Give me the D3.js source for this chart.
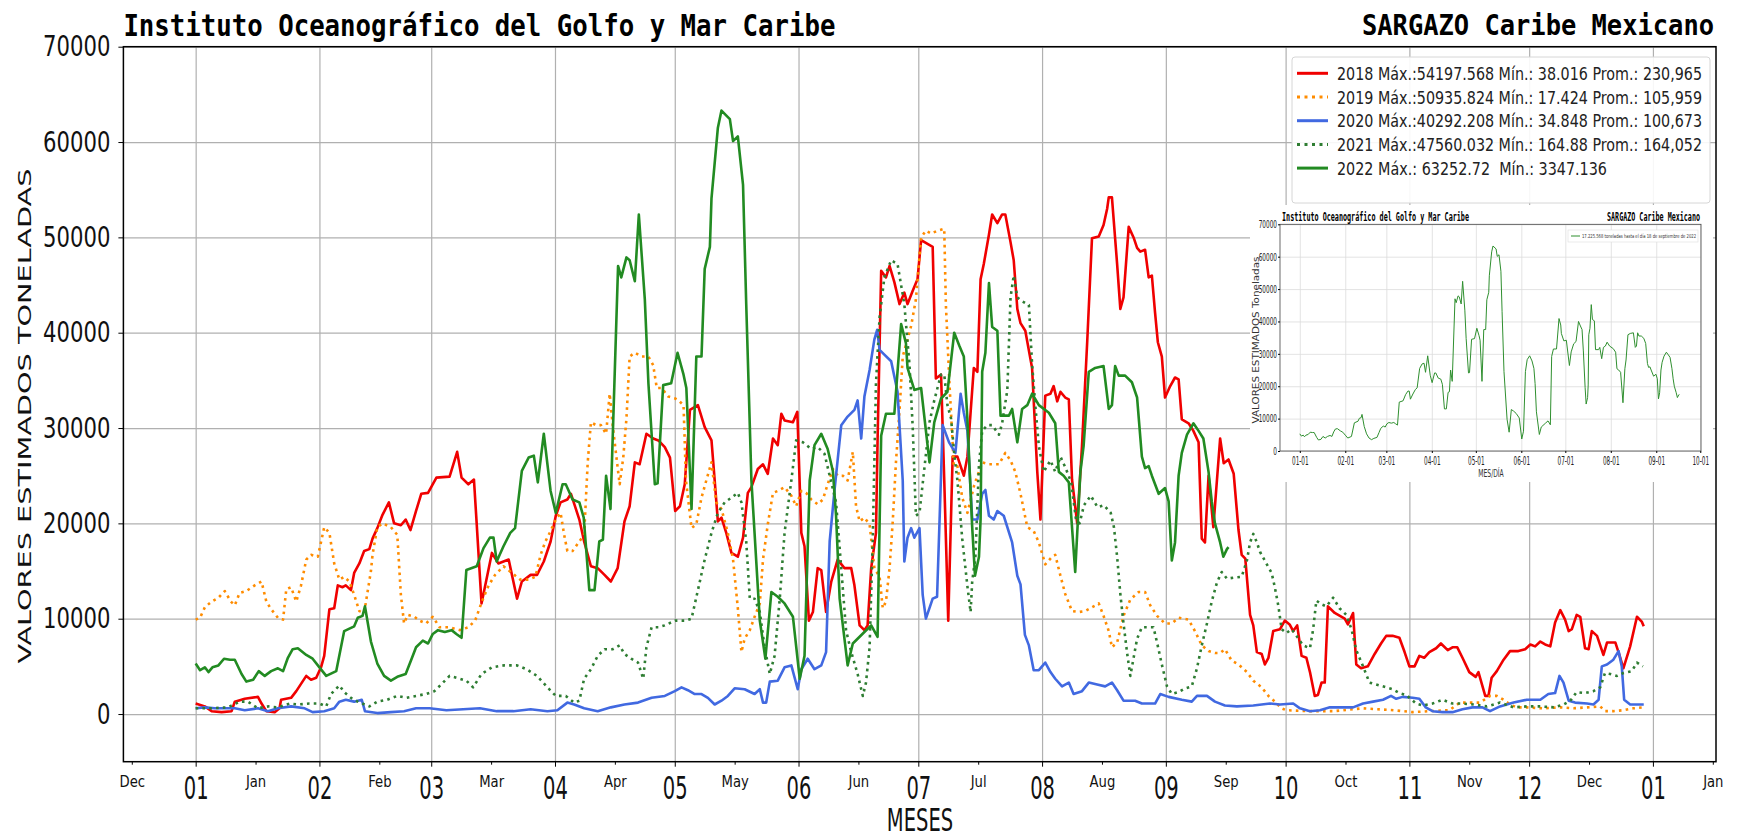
<!DOCTYPE html>
<html lang="es">
<head>
<meta charset="utf-8" />
<title>SARGAZO Caribe Mexicano</title>
<style>
  body { margin:0; background:#fff; }
  svg  { display:block; font-family:"DejaVu Sans",sans-serif; }
  .grid line  { stroke:#b0b0b0; stroke-width:1.2px; }
  .igrid line { stroke:#dcdcdc; stroke-width:0.8px; }
  .grid path, .igrid path { display:none; }
  .mono { font-family:"DejaVu Sans Mono",monospace; font-weight:bold; }
</style>
</head>
<body>
<svg id="chart" width="1737" height="837"></svg>

<script src="https://cdn.jsdelivr.net/npm/d3@7"></script>
<script>
/* ---------- DATA : [day of year (0 = 1 Jan), toneladas] ---------- */
const s2018 = [[0,1100],[2.3,800],[4,300],[6.5,200],[9,300],[9.8,1300],[12.3,1600],[15.6,1800],[16.5,1100],[17.7,300],[19.8,200],[21,600],[21.4,1500],[23.9,1700],[25.2,2400],[27.7,4000],[28.9,3600],[30.2,3800],[31.4,4900],[32.2,6100],[33.5,11000],[34.7,11100],[35.6,13500],[36.8,13300],[37.6,13500],[38.9,13000],[39.7,14800],[41,15800],[42.2,17100],[43.5,17300],[44.3,18400],[45.5,19500],[46.8,20900],[48.4,22200],[49.7,20000],[51.4,19800],[52.6,20400],[53.8,19300],[55.2,21300],[56.5,23100],[58.2,23200],[60.3,24800],[63.6,24900],[65.5,27500],[66.6,24800],[68.3,24100],[69.7,24600],[70.4,19900],[71.6,11600],[74.2,16900],[75.8,15800],[78.4,16200],[80.5,12100],[81.7,13900],[83.9,14600],[85.5,14600],[87.2,16000],[88.9,18100],[90.2,20800],[91.4,22200],[93.1,22500],[94,23100],[96.1,20400],[97.3,18100],[99,15500],[100.7,15300],[102.4,14600],[104,13900],[105.7,15300],[107.4,20200],[108.7,21800],[110,26400],[111.2,26200],[112.9,29400],[114.6,28900],[115.9,28700],[117.5,28000],[118.8,26900],[120.1,21300],[121.3,21800],[122.5,24100],[123.8,31900],[125.8,32400],[127.5,30100],[129.2,28700],[130,24500],[130.8,20200],[131.7,20600],[132.9,19000],[134.2,16900],[135.8,16500],[137.1,18500],[138.3,23200],[139.2,23800],[140.8,25700],[142.1,26200],[143.3,25200],[144.6,28900],[145.8,28200],[146.7,31500],[147.5,30800],[149.6,30600],[150.7,31700],[151.7,19000],[152.5,17600],[153.6,9800],[154.6,10700],[155.8,15300],[156.7,15100],[157.9,10700],[159.2,13900],[160.8,16200],[162.5,15300],[164.2,15300],[165,13500],[166.3,9300],[167.5,8800],[168.3,9300],[169.2,15300],[170.4,19000],[170.8,28700],[171.7,46500],[172.9,45800],[173.8,47000],[175,45300],[176.3,43000],[177.5,44200],[178.3,43000],[179.6,44400],[180.8,45600],[181.7,49700],[184.6,49000],[185.4,35200],[186.7,35600],[187.5,24500],[188.5,9800],[189.6,27000],[190.8,27000],[192.4,25000],[193.3,27000],[194.9,36300],[195.8,35900],[196.6,45600],[197.4,47200],[198.7,50300],[199.5,52400],[200.8,51500],[202,52400],[202.8,52400],[204.1,49500],[204.9,47600],[205.8,42500],[206.6,41000],[207.8,40200],[209.5,36300],[210.8,25400],[211.6,20400],[212.8,33400],[214.1,33600],[214.9,34400],[215.8,32800],[216.6,33800],[217.8,33200],[218.7,33000],[219.5,24600],[220.8,20000],[222,28100],[223.3,39000],[224.5,49900],[226.2,50100],[227.4,51300],[228.3,53000],[228.7,54200],[229.5,54200],[230.8,47200],[231.6,42500],[232.4,43700],[233.7,51100],[235,49900],[235.8,48900],[236.6,48500],[237.8,48700],[238.7,45800],[239.5,46000],[240.3,42100],[241,39000],[242,37500],[242.8,33200],[244.1,34400],[245.3,35300],[246.2,35100],[247,30900],[248.7,30500],[249.9,29700],[251.2,28500],[252,18400],[252.8,18000],[253.7,25000],[254.9,19600],[256.6,28900],[257.5,26300],[258.7,26700],[260,25200],[261.2,19300],[262,16700],[262.9,16300],[264.1,10400],[264.9,9300],[265.8,6500],[267,6300],[267.8,5200],[268.7,5900],[269.9,8700],[271.6,8900],[272.8,9800],[274,9400],[274.9,8700],[275.9,9300],[277,6100],[278.2,5900],[279.1,4400],[280.3,1900],[281.1,2000],[282,3300],[282.8,3300],[283.6,11300],[285.3,10600],[287.8,10000],[288.6,9400],[289.9,10600],[290.7,5200],[291.9,4800],[293.6,5000],[295.3,6300],[296.9,7400],[298.2,8200],[299.8,8200],[301.5,8000],[302.8,6500],[304,5000],[305.3,5000],[306.5,6100],[307.7,5900],[309,6500],[310.7,6900],[311.9,7400],[313.6,6700],[314.8,7000],[316,7000],[317.3,5900],[319,4400],[320.6,3900],[321.3,4400],[323,1900],[323.8,1900],[324.6,3800],[325.9,4500],[327.6,5700],[329.2,6600],[331.3,6600],[333,6800],[334.3,7300],[335.5,7100],[336.8,7600],[338,7300],[339.3,7100],[340.5,9600],[341.8,10900],[343,9900],[343.9,8700],[344.7,8900],[345.9,10400],[346.8,10200],[348,6900],[348.9,6800],[349.7,8700],[351,8200],[352.6,6200],[353.5,7500],[355.6,7500],[356.6,6200],[357.6,4800],[359.3,7100],[361,10200],[362.2,9700],[362.7,9200]];

const s2019 = [[0,9900],[1.1,10100],[2.3,11200],[4,11800],[5.7,12200],[7.3,12900],[8.8,11800],[9.8,11400],[11,12700],[12.7,12900],[14.8,13500],[16.5,13900],[17.7,11800],[18.9,11000],[20.6,10100],[21.9,9900],[22.7,13100],[23.9,13300],[25.2,11800],[26.4,13500],[27.7,16200],[28.9,16700],[30.6,16500],[32.2,19600],[33.5,19000],[34.7,15800],[36,14100],[37.2,14400],[38.5,13900],[39.7,12500],[41,10800],[42.2,10600],[43.9,15000],[44.3,16700],[45.5,19600],[46.8,20000],[48.9,19600],[50.5,18800],[51.4,12500],[52.2,9500],[53.1,10400],[54.8,10200],[56,9800],[57.7,9500],[59.4,10200],[61.1,9100],[63.6,9100],[66.2,8800],[68.3,9100],[70,9800],[71.7,11800],[73.4,13500],[75,14600],[77.1,15500],[79.2,14800],[81.3,14100],[83.4,14100],[85.1,14400],[86.4,16700],[87.6,18100],[88.9,19200],[90.2,20400],[91.4,21100],[92.3,18800],[93.1,17100],[94.4,17100],[96.1,18100],[97.3,18800],[98.2,26400],[99,30600],[100.3,30300],[101.5,30300],[102.8,29400],[103.7,33600],[104.5,30100],[105.4,26900],[106.2,24100],[107.1,26900],[107.9,31000],[108.7,37500],[110,37900],[111.7,37500],[113.4,37500],[114.6,36600],[115.5,34200],[116.7,34200],[118.4,33300],[120.1,33100],[120.9,32900],[122.2,32400],[122.8,24500],[124.2,19500],[125.4,19900],[126.7,22700],[127.9,24500],[129.2,26400],[130.4,22200],[131.7,21500],[133.3,19000],[134.6,16200],[135.8,11100],[136.7,6500],[137.5,7900],[138.8,8800],[140,10200],[141.3,11600],[142.1,16200],[143.3,19900],[144.6,23200],[145.8,23400],[147.5,23800],[149.2,22900],[150.4,21800],[151.7,23400],[152.9,23200],[154.2,22500],[155.8,22000],[157.1,22500],[158.3,24100],[159.6,25700],[160.8,25000],[162.1,25000],[163.3,24500],[164.6,27500],[165.4,21800],[166.3,20200],[167.5,20600],[168.8,19900],[170,15300],[171.3,14400],[172.1,11100],[172.9,11800],[173.8,15300],[174.6,20200],[175.4,26400],[176.3,31900],[177.1,37500],[178.3,39300],[179.2,40700],[180.4,43500],[181.7,50000],[182.9,50700],[184.2,50400],[185.8,50700],[187.5,50900],[187.9,43000],[188.8,34700],[189.9,26000],[190.8,26000],[192,22700],[193.3,21100],[195,24000],[197,26400],[198.7,26200],[201.2,26200],[202.8,27400],[204.1,26600],[205.3,25400],[206.6,23100],[208.3,19600],[209.9,19200],[211.2,18000],[212.8,15700],[214.5,16500],[215.3,16700],[216.6,14500],[217.8,12600],[219.5,10800],[221.2,10700],[222.8,10800],[224.5,11200],[226.2,11600],[227.4,10300],[228.7,8700],[229.5,7000],[230.8,7500],[232.4,10300],[234.1,12000],[236.2,12800],[237.8,12800],[239.1,11400],[240.8,10300],[242.8,9500],[244.5,9500],[246.2,10100],[248.7,9900],[250.3,8700],[252,7200],[253.7,6600],[255.3,6400],[256.6,6400],[257.8,6800],[259.5,5600],[261.2,5200],[263.3,4400],[264.9,3500],[267,2800],[268.7,1900],[270.3,1300],[272,600],[273.2,400],[279.1,300],[285,300],[292.4,600],[296,500],[300,400],[304.8,200],[309,300],[314,400],[316.7,1200],[319.2,1200],[321.7,1200],[324.2,1900],[325.9,1900],[327.6,1500],[329.2,1000],[330.9,700],[333.4,700],[337.6,600],[341.8,700],[345.1,600],[348.5,700],[351.8,800],[353,300],[355.1,300],[357.6,400],[360.1,600],[362.7,700]];

const s2020 = [[0,600],[2.3,700],[4.8,600],[7.3,600],[9.8,600],[12.3,400],[15.6,600],[18.1,300],[20.6,600],[23.9,800],[27.3,600],[29.3,200],[32.2,300],[34.7,600],[36,1300],[37.6,1500],[39.7,1300],[41.6,1500],[42.4,300],[45.5,100],[48.9,200],[52.2,300],[55.2,600],[58.6,600],[62.8,400],[67,500],[71.2,600],[75.4,300],[79.6,300],[83.9,500],[88.1,300],[90.6,400],[93.1,1200],[94.8,1000],[97.3,600],[100.7,300],[104,700],[107.4,1000],[110.8,1200],[114.2,1700],[117.5,1900],[120,2400],[121.7,2800],[123.3,2500],[125,2100],[126.7,2100],[128.3,1700],[130,1000],[131.7,1400],[133.3,1900],[135,2700],[137.5,2600],[140,2100],[141.3,2600],[142.1,1200],[142.9,1200],[143.8,3400],[145.8,3500],[147.5,4900],[149.2,5100],[150.8,2600],[151.7,4700],[153.3,5800],[155,4700],[156.7,5100],[157.9,6500],[158.8,18100],[160,23400],[161.7,30300],[163.3,31200],[165,31900],[165.8,32900],[166.7,28900],[167.5,33300],[168.8,36100],[170,39300],[170.7,40300],[171.3,38200],[172.5,37700],[174.2,37000],[175.8,33800],[177.1,24500],[177.5,16000],[178.3,18500],[179.2,19500],[180,18500],[181.3,19500],[182.1,12500],[182.9,10000],[184.6,12100],[185.7,12300],[187.1,30300],[188.7,28500],[190.3,27400],[191.6,33600],[192.4,31600],[193.3,29700],[194.5,20400],[195.8,20400],[197,23100],[197.8,23500],[198.7,20800],[199.9,20400],[200.8,21300],[202.4,20800],[204.5,18000],[205.8,14500],[206.6,13600],[207.7,8300],[208.7,7200],[209.9,4600],[211.2,4600],[212.8,5400],[214.1,4400],[215.3,3700],[217,2900],[218.7,3300],[219.9,2100],[222,2400],[223.7,3300],[225.8,3100],[227.8,2900],[229.5,3300],[230.8,2500],[232.4,1400],[235.3,1400],[237,1100],[240.3,1100],[241.6,2100],[243.7,1800],[247,1500],[249.5,1300],[250.8,1900],[253.3,1900],[255.3,1300],[257.8,900],[260.8,800],[264.9,900],[269.1,1100],[271.6,1000],[274.9,1100],[276.6,600],[279.1,300],[281.6,400],[284.1,700],[289.9,700],[292.4,1100],[294.9,1300],[297.4,1500],[299.4,1900],[300.7,1600],[302.3,1800],[304.8,1700],[306.5,1600],[308.1,700],[309.8,300],[312.3,200],[314.8,200],[317.3,500],[319.8,700],[322.3,700],[324.2,300],[326.7,800],[330.1,1200],[333.4,1500],[336.8,1500],[338.8,2100],[340.5,2200],[341.6,4000],[342.6,3300],[343.9,1400],[345.5,1200],[348.5,1100],[350.1,1000],[351.4,1500],[352.2,5000],[353.5,5200],[355.1,5700],[356.4,6600],[357.2,5000],[357.8,1500],[359.3,1000],[362.7,1000]];

const s2021 = [[0,600],[4,600],[8.1,700],[11,1300],[13.1,1300],[15.6,600],[18.1,800],[20.6,700],[23.5,1100],[25.6,1000],[28.5,1100],[31,1100],[32.7,800],[33.9,2100],[36,3000],[37.2,2300],[38.9,1700],[40.6,1300],[43.5,800],[45.5,1300],[48,1500],[50.5,1900],[52.7,1700],[55.2,1900],[57.7,2100],[59.8,2400],[61.5,3100],[63.6,4000],[66.2,3700],[67.8,3500],[69.5,2800],[71.6,4200],[74.2,4900],[77.1,5100],[80.5,5100],[82.9,4700],[85.5,4000],[88.1,2800],[90.2,1900],[92.7,1900],[94.8,1200],[96.1,1400],[97.3,3700],[99,4700],[100.7,6100],[102.4,6800],[104.5,6800],[106.2,7200],[107.4,6300],[109.1,5800],[110.8,5400],[112.1,3700],[112.9,7000],[114.2,9100],[115.9,9100],[117.5,9300],[120.1,9800],[122.6,9800],[124.2,10000],[125.8,13000],[127.5,16200],[129.2,19000],[130.8,21100],[132.5,22200],[134.2,22700],[135.8,23200],[136.7,22200],[137.9,18100],[138.8,12100],[140,12100],[141.3,10700],[142.5,7000],[143.8,4200],[145,6100],[146.3,12100],[147.5,19000],[149.2,24500],[150.4,28700],[152.1,28500],[154.2,27800],[155.8,28000],[157.5,27300],[159.2,24300],[160.4,22200],[161.7,15300],[162.9,8800],[164.2,6500],[165.8,4200],[167.1,1900],[167.9,3300],[168.8,7000],[169.6,18500],[170.4,34700],[171.3,41600],[172.5,45800],[174.2,47600],[175.8,47200],[177.5,43000],[178.8,36600],[179.6,30100],[180.4,20800],[181.3,21100],[182.5,25700],[183.8,30600],[185,32900],[185.8,34200],[186.7,35600],[187.5,35600],[188.3,32400],[189.2,31000],[190,27300],[190.8,24500],[192,18400],[193.3,13400],[194.1,10700],[194.5,13900],[195.3,16500],[196.2,26200],[197,29700],[198.3,30300],[199.5,30300],[201.2,29300],[202,30500],[203.3,34000],[204.1,43700],[204.9,46000],[205.8,43700],[207,43300],[208.7,42900],[209.5,36700],[210.3,32400],[211.2,28100],[212.4,25400],[214.1,26600],[215.3,25400],[216.6,27000],[217.9,25800],[219.3,24300],[220.5,20400],[221.4,20000],[222.5,21900],[224.2,22900],[225.9,21700],[227.5,21900],[229.2,21100],[230,19600],[230.8,16500],[231.6,12600],[232.4,9500],[233.3,6400],[234.1,4000],[234.8,5600],[235.8,7900],[237,9100],[238.3,9100],[239.9,9100],[240.8,7500],[242,5200],[243.3,2900],[244.5,2100],[246.2,2300],[247.9,2700],[249.5,2900],[250.8,4800],[252,7200],[253.3,9500],[254.5,11800],[255.8,13800],[257,14900],[258.3,14200],[259.9,14300],[262,14400],[263.3,16100],[264.1,18000],[264.9,18900],[265.8,18000],[266.6,17000],[268.3,15700],[269.5,14800],[270.3,13300],[271.2,11300],[272,8900],[273.2,8500],[274.5,8900],[275.7,8200],[277.4,7200],[279.1,6900],[279.9,8900],[280.7,11900],[282,11500],[283.2,11300],[284.9,12200],[286.5,11100],[288.2,10400],[289.5,8900],[290.7,6700],[292.4,5000],[294,3300],[296.5,3000],[298.2,2800],[299.8,2600],[301.5,2200],[303.2,2000],[305.7,1100],[307.3,900],[309.8,1100],[312.3,1500],[314.8,1100],[317.3,1100],[320,1000],[323.4,800],[326.7,1200],[330.1,700],[333.4,800],[336.8,800],[340.2,700],[342.6,1000],[344.3,1400],[345.9,2300],[348,2200],[350.1,2400],[351.8,2800],[353,4300],[354.3,4200],[356,4000],[357.6,4300],[359.7,4500],[361,5400],[362.5,5000]];

const s2022 = [[0,5300],[1.1,4600],[2.3,4900],[3.2,4400],[4.2,4900],[5.7,5100],[7.1,5800],[8.6,5700],[9.8,5700],[11.5,4200],[12.7,3400],[14.4,3600],[15.8,4500],[17.3,4000],[18.9,4500],[20.6,4800],[21.9,4500],[23.1,5900],[24.3,6800],[25.6,6900],[27.7,6200],[29.3,5800],[31,4900],[32.7,4000],[35.2,4500],[37.2,8700],[39.7,9200],[40.6,10100],[41.8,10300],[42.4,11300],[43.9,7600],[45.5,5300],[47.2,4000],[48.9,3500],[50.5,3900],[52.6,4200],[54,5700],[55.2,7000],[56.9,7700],[58.2,7400],[59.4,8400],[60.7,8800],[62.4,8600],[64.1,8800],[65.3,8400],[66.6,8000],[67.8,15100],[70.4,15500],[72.1,17400],[73.7,18500],[74.6,18500],[75.4,16000],[77.1,17600],[78.8,19000],[80,19500],[81.7,25500],[83.4,26900],[84.7,27100],[85.7,24300],[87.2,29400],[88.9,23400],[90.2,21100],[91.9,24100],[92.7,24100],[94.4,22500],[96.1,22200],[97.2,20600],[98.6,13000],[99.9,13000],[101.1,18100],[102,18300],[102.8,25000],[103.9,21500],[105.8,47000],[106.6,45800],[107.9,47900],[108.7,47600],[110,45400],[111,52400],[112.5,43500],[113.4,34700],[115,24100],[115.7,24200],[117.1,34500],[119.1,34700],[120.7,37900],[122.2,35600],[122.9,34200],[124.2,21500],[125.4,37500],[126.7,37500],[127.5,46700],[128.8,49000],[129.2,54100],[130.8,61500],[131.7,63300],[133.8,62400],[134.6,60100],[135.8,60600],[137.1,55500],[137.9,43000],[139.2,24500],[141.3,9800],[142.7,5800],[144.2,12800],[145.8,12300],[147.5,11600],[149.6,10200],[151.3,3700],[152.5,6100],[153.8,24500],[155,28200],[156.7,29400],[158.3,27800],[159.6,25500],[160.4,20800],[161.3,12100],[163.3,5100],[164.6,7400],[167.5,8600],[169.2,9300],[170.8,8100],[171.7,29200],[172.9,31500],[175,31500],[176.7,40900],[177.9,38900],[178.3,36300],[180,34000],[181.7,34200],[183.8,26400],[185,30600],[186.7,33100],[188.3,33800],[190,40000],[191.3,38600],[192.4,37500],[193.3,30900],[194.5,19600],[195.2,14500],[196.2,16500],[196.6,20400],[197,35900],[197.8,37900],[198.7,45200],[199.5,40600],[200.8,40200],[201.6,31300],[203.7,31300],[204.5,32000],[205.8,28500],[207,32000],[208.3,32400],[209.5,33600],[211.2,32400],[213.7,31600],[215.3,30500],[216.2,25400],[217.4,25000],[218.7,24300],[220.3,14900],[221.6,25400],[222.4,28100],[223.7,35900],[225.3,36300],[227.4,36500],[228.7,32000],[229.5,32400],[230.3,36500],[231.2,35500],[232.8,35500],[234.5,34800],[235.8,33200],[237,27000],[237.8,25800],[238.7,26000],[239.5,25000],[241.2,23100],[242.8,23700],[243.7,22300],[244.5,16100],[245.3,18000],[246.2,25000],[247,27400],[248.3,29300],[249.9,30500],[251.2,29700],[252.4,28900],[253.7,25400],[254.5,22300],[255.3,20000],[256.6,18000],[257.4,16500],[258.3,17300],[258.7,17500]];

const legendLabels = [
  "2018 Máx.:54197.568 Mín.: 38.016 Prom.: 230,965",
  "2019 Máx.:50935.824 Mín.: 17.424 Prom.: 105,959",
  "2020 Máx.:40292.208 Mín.: 34.848 Prom.: 100,673",
  "2021 Máx.:47560.032 Mín.: 164.88 Prom.: 164,052",
  "2022 Máx.: 63252.72  Mín.: 3347.136"
];
const insetLabel = "17.225.568 toneladas hasta el día 18 de septiembre de 2022";
const yTicks = d3.range(0, 70001, 10000);

/* ---------- SET-UP ---------- */
const svg  = d3.select("#chart");
const base = Date.UTC(2022, 0, 1);
const toDate = d => new Date(base + d * 864e5);
const M = {left:123.4, right:1716, top:46.7, bottom:761.7};
const plain = d3.format("d");

const series = [
  {data:s2018, color:"#f00000",  dotted:false},
  {data:s2019, color:"#ff8c00",  dotted:true},
  {data:s2020, color:"#4169e1",  dotted:false},
  {data:s2021, color:"#2e7d32",  dotted:true},
  {data:s2022, color:"#228b22",  dotted:false}
];

const x = d3.scaleUtc().domain([toDate(-18.1), toDate(380.8)]).range([M.left, M.right]);
const y = d3.scaleLinear().domain([-5000, 70000]).range([M.bottom, M.top]);

const majorTicks = d3.utcMonth.range(toDate(0), toDate(366));
const minorTicks = d3.utcMonth.range(toDate(-31), toDate(366)).map(d => d3.utcDay.offset(d, 15));

/* ---------- GRID ---------- */
svg.append("g").attr("class","grid").attr("transform",`translate(0,${M.bottom})`)
  .call(d3.axisBottom(x).tickValues(majorTicks).tickSize(-(M.bottom - M.top)).tickFormat(""));
svg.append("g").attr("class","grid").attr("transform",`translate(${M.left},0)`)
  .call(d3.axisLeft(y).tickValues(yTicks).tickSize(-(M.right - M.left)).tickFormat(""));

/* ---------- LINES ---------- */
const line = d3.line().x(d => x(toDate(d[0]))).y(d => y(d[1]));
series.forEach(s => {
  svg.append("path").datum(s.data)
    .attr("d", line)
    .attr("fill","none")
    .attr("stroke", s.color)
    .attr("stroke-width", 2.6)
    .attr("stroke-linejoin","round")
    .attr("stroke-dasharray", s.dotted ? "2.6,4.2" : null);
});

/* ---------- FRAME + AXES ---------- */
svg.append("rect")
  .attr("x",M.left).attr("y",M.top)
  .attr("width",M.right - M.left).attr("height",M.bottom - M.top)
  .attr("fill","none").attr("stroke","#000").attr("stroke-width",1.5);

const xMajor = svg.append("g").attr("transform",`translate(0,${M.bottom})`)
  .call(d3.axisBottom(x).tickValues(majorTicks).tickFormat(d3.utcFormat("%m")).tickSize(5));
xMajor.attr("font-family",null).attr("font-size",null).select(".domain").remove();
xMajor.selectAll("text").attr("y",37).attr("dy",null)
  .attr("font-size",32).attr("fill","#111").attr("transform","scale(0.61,1)");

const xMinor = svg.append("g").attr("transform",`translate(0,${M.bottom})`)
  .call(d3.axisBottom(x).tickValues(minorTicks).tickFormat(d3.utcFormat("%b")).tickSize(3));
xMinor.attr("font-family",null).attr("font-size",null).select(".domain").remove();
xMinor.selectAll("text").attr("y",25).attr("dy",null)
  .attr("font-size",16.5).attr("fill","#111").attr("transform","scale(0.8,1)");

const yAxis = svg.append("g").attr("transform",`translate(${M.left},0)`)
  .call(d3.axisLeft(y).tickValues(yTicks).tickFormat(plain).tickSize(5));
yAxis.attr("font-family",null).attr("font-size",null).select(".domain").remove();
yAxis.selectAll("text").attr("x",0)
  .attr("font-size",29).attr("fill","#111").attr("transform","translate(-13,0) scale(0.73,1)");

/* ---------- TITLES / LABELS ---------- */
svg.append("text").attr("class","mono")
  .attr("x",M.left).attr("y",36).attr("font-size",31)
  .attr("textLength",712).attr("lengthAdjust","spacingAndGlyphs")
  .text("Instituto Oceanográfico del Golfo y Mar Caribe");
svg.append("text").attr("class","mono")
  .attr("x",1714).attr("y",35).attr("font-size",28).attr("text-anchor","end")
  .attr("textLength",352).attr("lengthAdjust","spacingAndGlyphs")
  .text("SARGAZO Caribe Mexicano");

svg.append("text")
  .attr("transform","translate(920,831) scale(0.61,1)")
  .attr("text-anchor","middle").attr("font-size",32).attr("fill","#111")
  .text("MESES");

svg.append("text")
  .attr("transform","translate(25,416) rotate(-90) scale(1,0.62)")
  .attr("text-anchor","middle").attr("dy","0.36em").attr("font-size",28).attr("fill","#111")
  .attr("textLength",495).attr("lengthAdjust","spacingAndGlyphs")
  .text("VALORES ESTIMADOS TONELADAS");

/* ---------- LEGEND ---------- */
const leg = svg.append("g");
leg.append("rect").attr("x",1292).attr("y",57).attr("width",418).attr("height",146)
  .attr("rx",3).attr("fill","#fff").attr("fill-opacity",0.9)
  .attr("stroke","#d6d6d6").attr("stroke-width",1);
const legLen = [365, 365, 365, 365, 270];
series.forEach((s, i) => {
  const cy = 73.3 + i * 23.7;
  leg.append("line").attr("x1",1297).attr("x2",1328).attr("y1",cy).attr("y2",cy)
    .attr("stroke",s.color).attr("stroke-width",3)
    .attr("stroke-dasharray", s.dotted ? "3,4.5" : null);
  leg.append("text").attr("x",1337).attr("y",cy + 6.7)
    .attr("font-size",18).attr("fill","#222").style("white-space","pre")
    .attr("textLength",legLen[i]).attr("lengthAdjust","spacingAndGlyphs")
    .text(legendLabels[i]);
});

/* ---------- INSET (2022 only) ---------- */
const ins = svg.append("g");
ins.append("rect").attr("x",1250).attr("y",205).attr("width",463).attr("height",277).attr("fill","#fff");

const I = {left:1280, right:1701, top:224.3, bottom:451};
const ix = d3.scaleUtc().domain([toDate(-13.5), toDate(273.5)]).range([I.left, I.right]);
const iy = d3.scaleLinear().domain([0, 70000]).range([I.bottom, I.top]);
const iTicks = d3.utcMonth.range(toDate(0), toDate(274));

ins.append("g").attr("class","igrid").attr("transform",`translate(0,${I.bottom})`)
  .call(d3.axisBottom(ix).tickValues(iTicks).tickSize(-(I.bottom - I.top)).tickFormat(""));
ins.append("g").attr("class","igrid").attr("transform",`translate(${I.left},0)`)
  .call(d3.axisLeft(iy).tickValues(yTicks).tickSize(-(I.right - I.left)).tickFormat(""));

ins.append("path").datum(s2022)
  .attr("d", d3.line().x(d => ix(toDate(d[0]))).y(d => iy(d[1])))
  .attr("fill","none").attr("stroke","#2f8f2f").attr("stroke-width",1);

ins.append("rect").attr("x",I.left).attr("y",I.top)
  .attr("width",I.right - I.left).attr("height",I.bottom - I.top)
  .attr("fill","none").attr("stroke","#444").attr("stroke-width",0.8);

const ixAxis = ins.append("g").attr("transform",`translate(0,${I.bottom})`)
  .call(d3.axisBottom(ix).tickValues(iTicks).tickFormat(d3.utcFormat("%m-%d")).tickSize(2));
ixAxis.attr("font-family",null).attr("font-size",null).select(".domain").remove();
ixAxis.selectAll("text").attr("y",14).attr("dy",null)
  .attr("font-size",13).attr("fill","#222").attr("transform","scale(0.44,1)");

const iyAxis = ins.append("g").attr("transform",`translate(${I.left},0)`)
  .call(d3.axisLeft(iy).tickValues(yTicks).tickFormat(plain).tickSize(2));
iyAxis.attr("font-family",null).attr("font-size",null).select(".domain").remove();
iyAxis.selectAll("text").attr("x",0)
  .attr("font-size",10.5).attr("fill","#222").attr("transform","translate(-3,0) scale(0.55,1)");

ins.append("text").attr("class","mono")
  .attr("x",1282).attr("y",220.5).attr("font-size",12)
  .attr("textLength",187).attr("lengthAdjust","spacingAndGlyphs")
  .text("Instituto Oceanográfico del Golfo y Mar Caribe");
ins.append("text").attr("class","mono")
  .attr("x",1700).attr("y",220.5).attr("font-size",12).attr("text-anchor","end")
  .attr("textLength",93).attr("lengthAdjust","spacingAndGlyphs")
  .text("SARGAZO Caribe Mexicano");

ins.append("text")
  .attr("transform","translate(1491,477) scale(0.55,1)")
  .attr("text-anchor","middle").attr("font-size",11).attr("fill","#333")
  .text("MES/DÍA");
ins.append("text")
  .attr("transform","translate(1256,340) rotate(-90)")
  .attr("text-anchor","middle").attr("dy","0.35em").attr("font-size",9).attr("fill","#333")
  .attr("textLength",167).attr("lengthAdjust","spacingAndGlyphs")
  .text("VALORES ESTIMADOS Toneladas");

ins.append("rect").attr("x",1568).attr("y",230).attr("width",130).attr("height",12)
  .attr("fill","#fff").attr("stroke","#ddd").attr("stroke-width",0.6);
ins.append("line").attr("x1",1571).attr("x2",1580).attr("y1",236).attr("y2",236)
  .attr("stroke","#2f8f2f").attr("stroke-width",1);
ins.append("text").attr("x",1582).attr("y",238.2).attr("font-size",5.5).attr("fill","#333")
  .attr("textLength",114).attr("lengthAdjust","spacingAndGlyphs")
  .text(insetLabel);
</script>
</body>
</html>
